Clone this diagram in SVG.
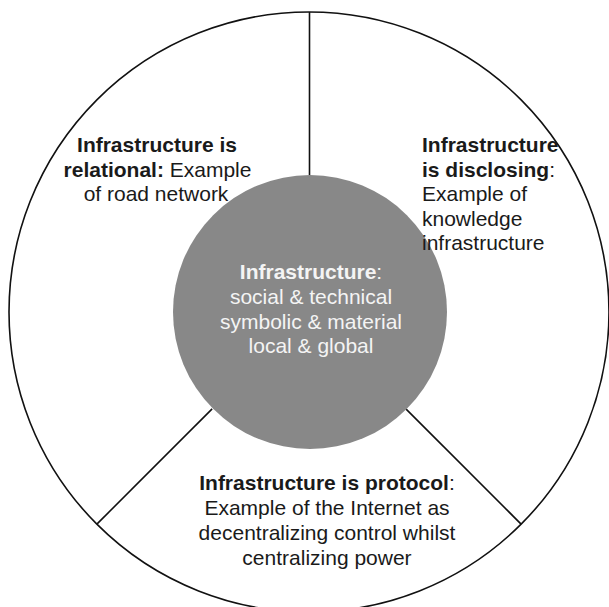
<svg xmlns="http://www.w3.org/2000/svg" width="609" height="607" viewBox="0 0 609 607">
<style>
text{font-family:"Liberation Sans",Arial,Helvetica,sans-serif;font-size:21px;fill:#1a1a1a}
.b{font-weight:bold}
.w{fill:#f4f4f4}
.ln{stroke:#111;stroke-width:1.6;fill:none}
</style>
<rect width="609" height="607" fill="#fff"/>
<g id="ring">
<circle class="ln" cx="309" cy="312" r="300"/>
</g>
<g id="connectors">
<line class="ln" x1="309.5" y1="12" x2="309.5" y2="175"/>
<line class="ln" x1="212.1" y1="408.9" x2="96.9" y2="524.1"/>
<line class="ln" x1="405.9" y1="408.9" x2="521.1" y2="524.1"/>
</g>
<g id="center">
<circle cx="310" cy="312" r="137" fill="#888888"/>
<text x="311" y="279" text-anchor="middle" class="w"><tspan class="b">Infrastructure</tspan>:</text>
<text x="311" y="304" text-anchor="middle" class="w">social &amp; technical</text>
<text x="311" y="329" text-anchor="middle" class="w">symbolic &amp; material</text>
<text x="311" y="353" text-anchor="middle" class="w">local &amp; global</text>
</g>
<g id="relational">
<text x="157" y="152" text-anchor="middle" class="b">Infrastructure is</text>
<text x="157.5" y="177" text-anchor="middle"><tspan class="b">relational:</tspan> Example</text>
<text x="156" y="201" text-anchor="middle">of road network</text>
</g>
<g id="disclosing">
<text x="422" y="152" class="b">Infrastructure</text>
<text x="422" y="176.5"><tspan class="b">is disclosing</tspan>:</text>
<text x="422" y="201">Example of</text>
<text x="422" y="225.5">knowledge</text>
<text x="422" y="250">infrastructure</text>
</g>
<g id="protocol">
<text x="327" y="490" text-anchor="middle"><tspan class="b">Infrastructure is protocol</tspan>:</text>
<text x="327" y="515" text-anchor="middle">Example of the Internet as</text>
<text x="327" y="540" text-anchor="middle">decentralizing control whilst</text>
<text x="327" y="565" text-anchor="middle">centralizing power</text>
</g>
</svg>
